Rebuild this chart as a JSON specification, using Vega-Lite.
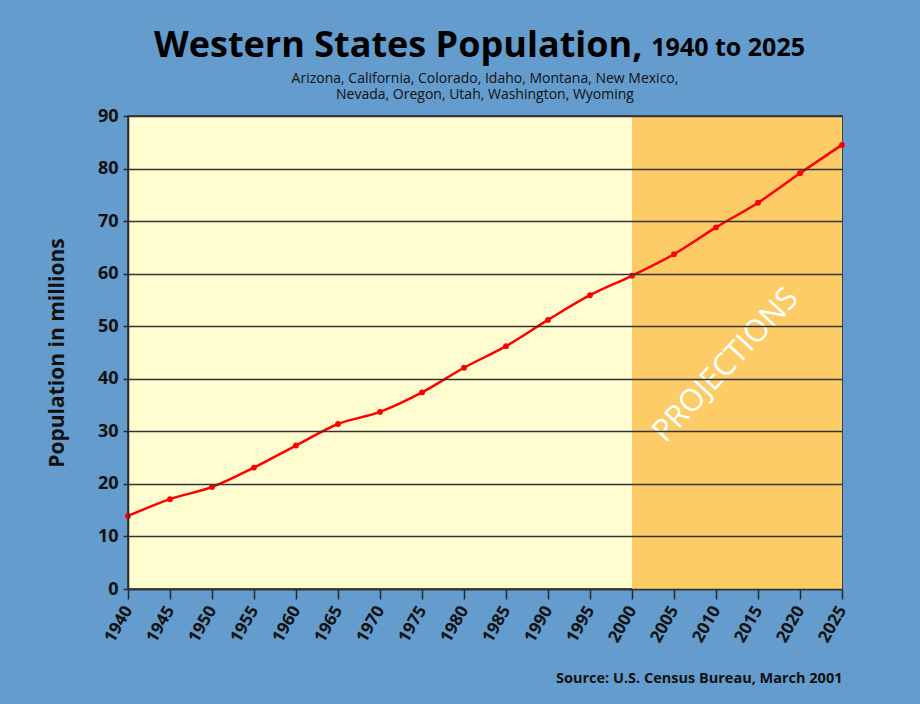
{
  "$schema": "https://vega.github.io/schema/vega-lite/v6.json",
  "width": 714,
  "height": 473,
  "autosize": {"type": "none"},
  "padding": {"left": 128, "top": 116, "right": 78, "bottom": 115},
  "background": "#639CCD",
  "title": {
    "text": "Western States Population,",
    "font": "Open Sans",
    "fontSize": 36,
    "fontWeight": "bold",
    "color": "#000000",
    "anchor": "start",
    "frame": "group",
    "dx": 26,
    "offset": -29
  },
  "config": {
    "view": {"fill": "#FFFDD0", "stroke": "#2a2a2a", "strokeWidth": 1.5},
    "font": "Open Sans"
  },
  "layer": [
    {
      "data": {"values": [{"start": 2000, "end": 2025}]},
      "mark": {"type": "rect", "color": "#FDCC66"},
      "encoding": {
        "x": {"field": "start", "type": "quantitative", "title": "Source: U.S. Census Bureau, March 2001"},
        "x2": {"field": "end"}
      }
    },
    {
      "data": {
        "values": [
          {"year": 1940, "population": 13.9},
          {"year": 1945, "population": 17.1},
          {"year": 1950, "population": 19.4},
          {"year": 1955, "population": 23.1},
          {"year": 1960, "population": 27.3},
          {"year": 1965, "population": 31.4},
          {"year": 1970, "population": 33.7},
          {"year": 1975, "population": 37.4},
          {"year": 1980, "population": 42.1},
          {"year": 1985, "population": 46.2},
          {"year": 1990, "population": 51.2},
          {"year": 1995, "population": 55.9},
          {"year": 2000, "population": 59.6},
          {"year": 2005, "population": 63.7},
          {"year": 2010, "population": 68.8},
          {"year": 2015, "population": 73.5},
          {"year": 2020, "population": 79.1},
          {"year": 2025, "population": 84.5}
        ]
      },
      "mark": {
        "type": "line",
        "color": "#FF0000",
        "strokeWidth": 2.5,
        "interpolate": "monotone",
        "clip": false,
        "point": {"filled": true, "size": 34, "color": "#FF0000"}
      },
      "encoding": {
        "x": {
          "field": "year",
          "type": "quantitative",
          "scale": {"domain": [1940, 2025], "nice": false, "zero": false},
          "title": "Source: U.S. Census Bureau, March 2001",
          "axis": {
            "values": [1940, 1945, 1950, 1955, 1960, 1965, 1970, 1975, 1980, 1985, 1990, 1995, 2000, 2005, 2010, 2015, 2020, 2025],
            "format": "d",
            "grid": false,
            "labelAngle": -60,
            "labelAlign": "right",
            "labelBaseline": "middle",
            "labelFontSize": 17,
            "labelFontWeight": "bold",
            "labelColor": "#111111",
            "labelPadding": 8,
            "labelFlush": false,
            "labelOverlap": false,
            "tickSize": 10,
            "tickWidth": 1.5,
            "tickColor": "#2a2a2a",
            "domainColor": "#2a2a2a",
            "domainWidth": 1.5,
            "titleAnchor": "end",
            "titleFontSize": 14.5,
            "titleFontWeight": "bold",
            "titleColor": "#111111",
            "titlePadding": 27
          }
        },
        "y": {
          "field": "population",
          "type": "quantitative",
          "scale": {"domain": [0, 90], "nice": false},
          "title": "Population in millions",
          "axis": {
            "values": [0, 10, 20, 30, 40, 50, 60, 70, 80, 90],
            "zindex": 1,
            "grid": true,
            "gridColor": "#333333",
            "gridWidth": 1.5,
            "labelFontSize": 18,
            "labelFontWeight": "bold",
            "labelColor": "#111111",
            "labelPadding": 5,
            "tickSize": 5,
            "tickWidth": 1.5,
            "tickColor": "#2a2a2a",
            "domainColor": "#2a2a2a",
            "domainWidth": 1.5,
            "titleFontSize": 21,
            "titleFontWeight": "bold",
            "titleColor": "#111111",
            "titlePadding": 30
          }
        }
      }
    },
    {
      "data": {"values": [{"label": "PROJECTIONS"}]},
      "mark": {"type": "text", "angle": -47, "fontSize": 31, "color": "#FFFFFF", "align": "center", "baseline": "middle", "font": "Open Sans"},
      "encoding": {
        "text": {"field": "label", "type": "nominal"},
        "x": {"datum": 2011.2, "title": "Source: U.S. Census Bureau, March 2001"},
        "y": {"datum": 42.5, "title": "Population in millions"}
      }
    },
    {
      "data": {"values": [{"span": "1940 to 2025"}]},
      "mark": {"type": "text", "fontSize": 25, "fontWeight": "bold", "color": "#000000", "align": "left", "baseline": "alphabetic", "font": "Open Sans"},
      "encoding": {
        "text": {"field": "span", "type": "nominal"},
        "x": {"datum": 2002.3, "title": "Source: U.S. Census Bureau, March 2001"},
        "y": {"datum": 101.4, "title": "Population in millions"}
      }
    },
    {
      "data": {"values": [{"states": ["Arizona, California, Colorado, Idaho, Montana, New Mexico,", "Nevada, Oregon, Utah, Washington, Wyoming"]}]},
      "mark": {"type": "text", "fontSize": 14, "lineHeight": 16, "color": "#111111", "align": "center", "baseline": "alphabetic", "font": "Open Sans"},
      "encoding": {
        "text": {"field": "states"},
        "x": {"datum": 1982.5, "title": "Source: U.S. Census Bureau, March 2001"},
        "y": {"datum": 96.2, "title": "Population in millions"}
      }
    }
  ]
}
